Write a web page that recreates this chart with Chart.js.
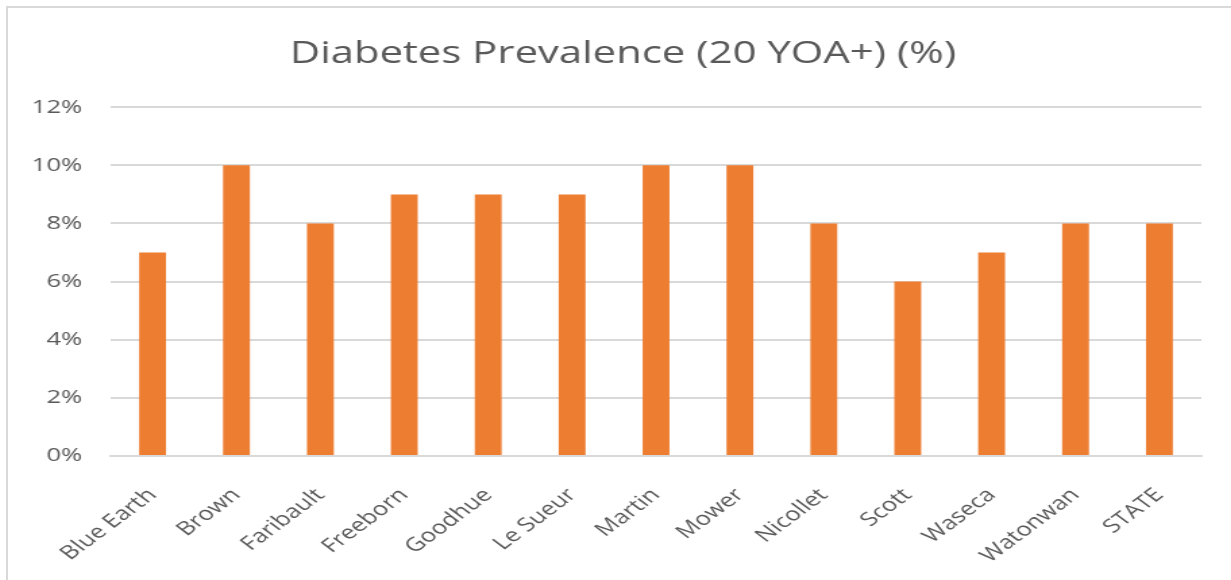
<!DOCTYPE html>
<html lang="en">
<head>
    <meta charset="UTF-8">
    <title>Diabetes Prevalence (20 YOA+) (%)</title>
    <script src="https://cdn.jsdelivr.net/npm/chart.js"></script>
    <style>
        html, body { margin: 0; padding: 0; background: #fff; overflow: hidden; }
        .frame { position: absolute; left: 6px; top: 6px; width: 1240px; height: 600px; border: 2px solid #d9d9d9; }
        /* the original picture is stretched sideways, so the canvas is too */
        .frame canvas { position: absolute; left: 0; top: 0; transform: scaleX(1.35); transform-origin: 0 0; }
    </style>
</head>
<body>
    <div class="frame">
        <canvas id="diabetesChart" width="906" height="572"></canvas>
    </div>

    <script>
        const counties = ['Blue Earth', 'Brown', 'Faribault', 'Freeborn', 'Goodhue', 'Le Sueur', 'Martin',
            'Mower', 'Nicollet', 'Scott', 'Waseca', 'Watonwan', 'STATE'];
        const prevalence = [7, 10, 8, 9, 9, 9, 10, 10, 8, 6, 7, 8, 8];
        const yTicks = [0, 2, 4, 6, 8, 10, 12];

        const fontFamily = "'Open Sans', 'Noto Sans', sans-serif";
        const textColor = '#595959';
        const gridColor = '#d9d9d9';

        const ctx = document.getElementById('diabetesChart').getContext('2d');
        new Chart(ctx, {
            type: 'bar',
            data: {
                labels: counties,
                datasets: [{
                    label: 'Diabetes Prevalence (20 YOA+) (%)',
                    data: prevalence,
                    backgroundColor: '#ed7d31',
                    borderWidth: 0,
                    barPercentage: 0.32,
                    categoryPercentage: 1
                }]
            },
            options: {
                responsive: false,
                animation: false,
                layout: { padding: { left: 5, right: 0, top: 0, bottom: 0 } },
                plugins: {
                    legend: { display: false },
                    tooltip: { enabled: false },
                    title: {
                        display: true,
                        text: 'Diabetes Prevalence (20 YOA+) (%)',
                        color: textColor,
                        font: { family: fontFamily, size: 31, weight: 'normal' },
                        padding: { top: 28, bottom: 34 }
                    }
                },
                scales: {
                    x: {
                        grid: { display: false },
                        border: { display: true, color: gridColor, width: 2 },
                        ticks: {
                            color: textColor,
                            font: { family: fontFamily, size: 19 },
                            minRotation: 45,
                            maxRotation: 45,
                            padding: 20
                        },
                        afterFit: (scale) => { scale.height = 124; }
                    },
                    y: {
                        min: 0,
                        max: 12,
                        afterBuildTicks: (scale) => { scale.ticks = yTicks.map(v => ({ value: v })); },
                        grid: { color: gridColor, lineWidth: 2, drawTicks: false },
                        border: { display: false },
                        ticks: {
                            color: textColor,
                            font: { family: fontFamily, size: 19 },
                            padding: 21,
                            callback: (v) => v + '%'
                        },
                        afterFit: (scale) => { scale.width = 71; }
                    },
                    // empty right-hand axis: keeps the right margin without shifting the title
                    yRight: {
                        position: 'right',
                        grid: { display: false },
                        border: { display: false },
                        ticks: { display: false },
                        afterFit: (scale) => { scale.width = 22; }
                    }
                }
            }
        });
    </script>
</body>
</html>
